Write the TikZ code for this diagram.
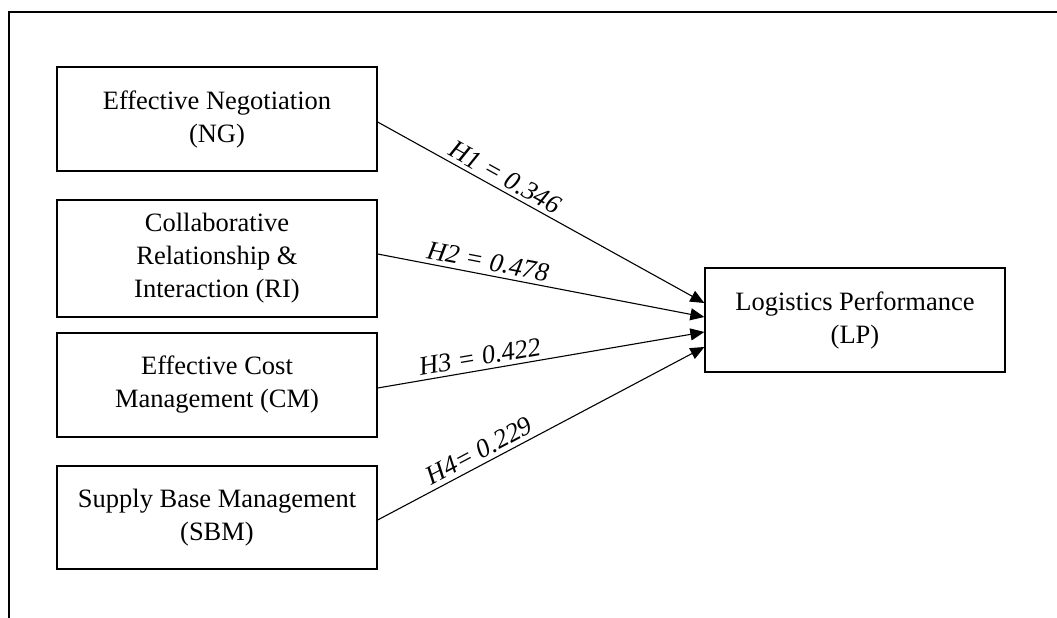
\documentclass[tikz,border=0pt]{standalone}
\usepackage{fontspec}
\setmainfont{Liberation Serif}
\usetikzlibrary{arrows.meta}
\begin{document}
\begin{tikzpicture}[x=1pt,y=-1pt,
  box/.style={draw,line width=1.3pt,align=center,inner sep=0pt,
    font=\fontsize{26.5}{33}\selectfont},
  link/.style={line width=1.1pt,-{Triangle[length=14pt,width=12pt]}},
  hlabel/.style={sloped,above,inner sep=4pt,font=\fontsize{26.5}{30}\selectfont\itshape},
  frame/.style={line width=2pt}]
\useasboundingbox (0,0) rectangle (1057,618);
\draw[frame] (9,618) -- (9,12.5) -- (1057,12.5);
\node[box,minimum width=320pt,minimum height=104pt] (ng) at (217,119) {Effective Negotiation\\(NG)};
\node[box,minimum width=320pt,minimum height=117pt] (ri) at (217,258.5) {Collaborative\\Relationship \&\\Interaction (RI)};
\node[box,minimum width=320pt,minimum height=104pt] (cm) at (217,385) {Effective Cost\\Management (CM)};
\node[box,minimum width=320pt,minimum height=103pt] (sbm) at (217,517.5) {Supply Base Management\\(SBM)};
\node[box,minimum width=300pt,minimum height=104pt] (lp) at (855,320) {Logistics Performance\\(LP)};
\coordinate (s1) at (ng.east |- 0,122);
\coordinate (s2) at (ri.east |- 0,254);
\coordinate (s3) at (cm.east |- 0,388);
\coordinate (s4) at (sbm.east |- 0,520);
\coordinate (e1) at (lp.west |- 0,303);
\coordinate (e2) at (lp.west |- 0,317);
\coordinate (e3) at (lp.west |- 0,332);
\coordinate (e4) at (lp.west |- 0,347);
\draw[link] (s1) -- node[hlabel,pos=0.37] {H1 = 0.346} (e1);
\draw[link] (s2) -- node[hlabel,pos=0.33] {H2 = 0.478} (e2);
\draw[link] (s3) -- node[hlabel,pos=0.32] {H3 = 0.422} (e3);
\draw[link] (s4) -- node[hlabel,pos=0.33] {H4= 0.229} (e4);
\end{tikzpicture}
\end{document}
